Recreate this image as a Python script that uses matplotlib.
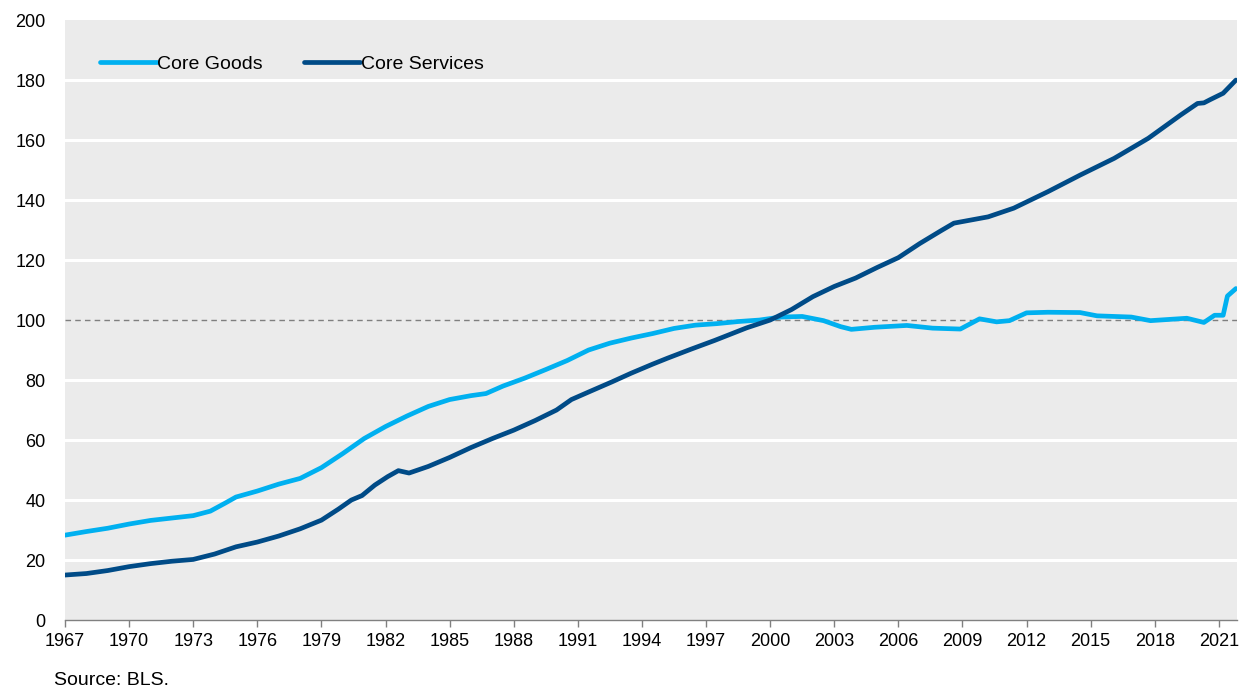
import matplotlib
matplotlib.use("Agg")
import matplotlib.pyplot as plt

goods_years = [1967.0, 1968.0, 1969.0, 1970.0, 1971.0, 1972.0, 1973.0, 1973.8, 1974.5, 1975.0,
               1976.0, 1977.0, 1978.0, 1979.0, 1980.0, 1981.0, 1982.0, 1983.0, 1984.0, 1985.0,
               1986.0, 1986.7, 1987.5, 1988.5, 1989.5, 1990.5, 1991.5, 1992.5, 1993.5, 1994.5,
               1995.5, 1996.5, 1997.5, 1998.5, 1999.5, 2000.5, 2001.5, 2002.5, 2003.3, 2003.8,
               2004.9, 2006.4, 2007.6, 2008.9, 2009.8, 2010.6, 2011.2, 2012.0, 2013.0, 2014.5,
               2015.3, 2016.9, 2017.8, 2019.5, 2020.3, 2020.8, 2021.2, 2021.4, 2021.8]
goods = [28.3, 29.5, 30.6, 32.0, 33.2, 34.0, 34.8, 36.3, 39.0, 41.0,
         43.0, 45.3, 47.2, 50.8, 55.5, 60.5, 64.5, 68.0, 71.2, 73.5,
         74.8, 75.5, 78.0, 80.6, 83.5, 86.5, 90.0, 92.3, 94.0, 95.5,
         97.2, 98.3, 98.8, 99.5, 100.0, 101.0, 101.2, 99.8, 97.8, 96.9,
         97.6, 98.2, 97.3, 97.0, 100.4, 99.4, 99.8, 102.4, 102.6, 102.5,
         101.4, 101.0, 99.8, 100.6, 99.2, 101.6, 101.6, 108.0, 110.5]

services_years = [1967.0, 1968.0, 1969.0, 1970.0, 1971.0, 1972.0, 1973.0, 1974.0, 1975.0, 1976.0,
                  1977.0, 1978.0, 1979.0, 1979.8, 1980.4, 1980.9, 1981.5, 1982.1, 1982.6, 1983.1,
                  1984.0, 1985.0, 1986.0, 1987.0, 1988.0, 1989.0, 1990.0, 1990.7, 1991.5, 1992.6,
                  1993.5, 1994.5, 1995.2, 1996.3, 1997.4, 1998.9, 2000.0, 2001.0, 2002.0, 2003.0,
                  2004.0, 2005.0, 2006.0, 2007.0, 2008.0, 2008.6, 2010.2, 2011.4, 2013.0, 2014.5,
                  2016.1, 2017.7, 2019.2, 2020.0, 2020.3, 2020.6, 2021.2, 2021.8]
services = [15.0, 15.5, 16.5, 17.8, 18.8, 19.6, 20.2, 22.0, 24.4, 26.0,
            28.0, 30.4, 33.3, 37.0, 40.0, 41.5, 45.0, 47.8, 49.8, 49.0,
            51.2, 54.2, 57.5, 60.5, 63.3, 66.5, 70.0, 73.5, 76.0, 79.4,
            82.3, 85.3, 87.3, 90.3, 93.2, 97.4, 100.0, 103.5, 107.8, 111.2,
            114.0, 117.5, 120.8, 125.5, 129.8, 132.3, 134.4, 137.3, 142.8, 148.3,
            153.9, 160.6, 168.3, 172.2, 172.4, 173.5, 175.6, 180.0]

x_ticks = list(range(1967, 2022, 3))
y_ticks = list(range(0, 201, 20))
baseline = 100

plt.rcParams['font.family'] = ['Liberation Sans', 'DejaVu Sans']

fig = plt.figure(figsize=(12.46, 6.92), dpi=100)
ax = fig.add_axes([0.0522, 0.104, 0.9406, 0.867])
ax.set_facecolor('#EBEBEB')

for v in y_ticks:
    if v not in (0, 200, baseline):
        ax.axhline(v, color='white', lw=2.2, zorder=1)
ax.axhline(baseline, color='#7F7F7F', lw=1.0, ls=(0, (4, 3)), zorder=2)

ax.plot(goods_years, goods, color='#00B0F0', lw=3.4, label='Core Goods', zorder=3,
        solid_capstyle='round')
ax.plot(services_years, services, color='#004B87', lw=3.4, label='Core Services', zorder=4,
        solid_capstyle='round')

ax.set_xlim(1967, 2021.85)
ax.set_ylim(0, 200)
ax.set_xticks(x_ticks)
ax.set_xticklabels([str(t) for t in x_ticks])
ax.set_yticks(y_ticks)
ax.tick_params(axis='y', length=0, labelsize=13, pad=14)
ax.tick_params(axis='x', length=5, width=1, color='#808080', labelsize=13, pad=4)
for s in ['top', 'right', 'left']:
    ax.spines[s].set_visible(False)
ax.spines['bottom'].set_color('#808080')
ax.spines['bottom'].set_linewidth(1)

leg = ax.legend(loc='upper left', bbox_to_anchor=(0.015, 0.97), ncol=2, frameon=False,
                fontsize=14, handlelength=2.9, handletextpad=0.05, columnspacing=2.1)

fig.text(0.043, 0.004, 'Source: BLS.', fontsize=14, ha='left', va='bottom')

fig.savefig('out.png', dpi=100)
